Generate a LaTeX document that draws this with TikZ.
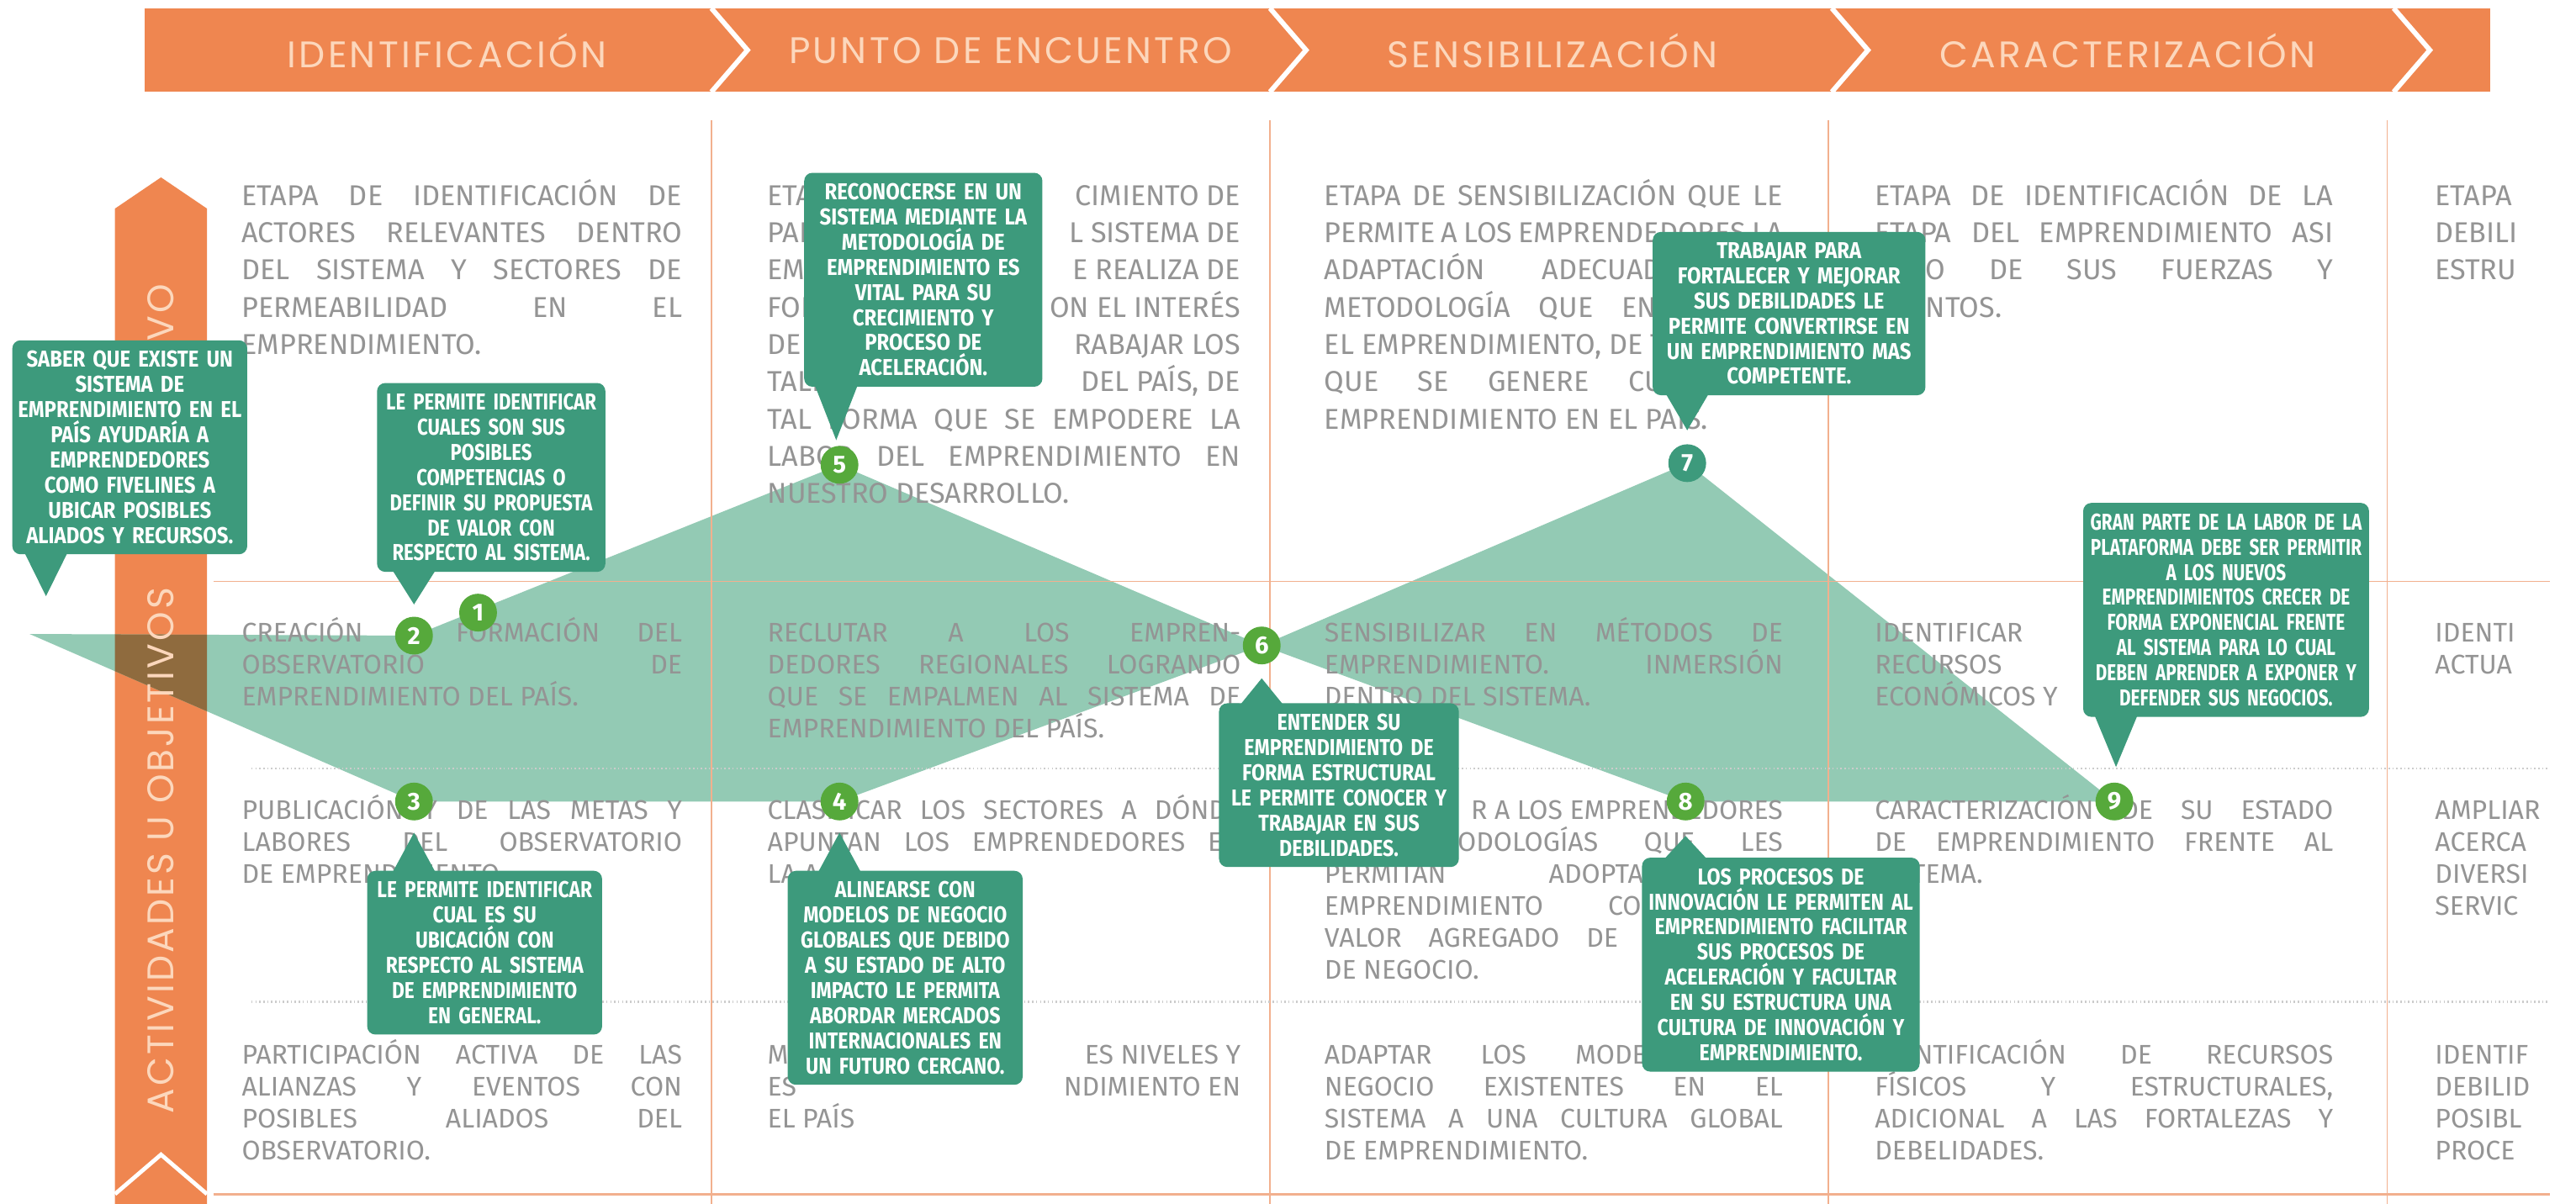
\documentclass[tikz,border=0pt]{standalone}
\usepackage{fontspec}
\usetikzlibrary{calc}
\newfontfamily\bodyf{Fira Sans}
\newfontfamily\callI[FakeStretch=0.76]{Fira Sans}
\newfontfamily\callB[FakeStretch=0.81]{Fira Sans}
\newfontfamily\callC[FakeStretch=0.83]{Fira Sans}
\newfontfamily\callD[FakeStretch=0.85]{Fira Sans}
\newfontfamily\callA[FakeStretch=0.875]{Fira Sans}
\newfontfamily\numf{Fira Sans}
\newfontfamily\headf[LetterSpace=7.5]{Poppins}
\newfontfamily\barf[LetterSpace=7]{Poppins}
\definecolor{orng}{HTML}{EF8650}
\definecolor{peach}{HTML}{FCD7BC}
\definecolor{cteal}{HTML}{3D9A7C}
\definecolor{cgreen}{HTML}{56A93B}
\definecolor{shapeg}{HTML}{93CAB4}
\definecolor{ovbrown}{HTML}{8F6B3E}
\definecolor{bodygray}{HTML}{949494}
\definecolor{gridor}{HTML}{F2B08E}
\definecolor{dotgray}{HTML}{CCCCCC}
\newlength\cw
\newcommand\jline[1]{\hbox to\cw{#1}}
\newcommand\lline[1]{\hbox to\cw{#1\hfil}}
\newcommand\sline[2]{\hbox to\cw{#1\hfil #2}}
\newcommand\pjline[2]{\hbox to\cw{\hbox to #1{#2}\hfil}}
\newcommand\rjline[2]{\hbox to\cw{\hfil\hbox to #1{#2}}}
\newcommand\rline[1]{\hbox to\cw{\hfil #1}}
\tikzset{
 headtext/.style={text=peach, font=\headf\fontsize{22.5}{22.5}\selectfont, inner sep=0pt},
 bartext/.style={text=peach, font=\barf\fontsize{22.5}{22.5}\selectfont, inner sep=0pt, rotate=90},
 callout/.style={fill=cteal, rounded corners=5pt, text=white, align=center, inner xsep=3pt, inner ysep=6.5pt, font=#1\bfseries\fontsize{14}{15.3}\selectfont, anchor=north},
 callout/.default=\callD,
 num/.style={circle, fill=cgreen, text=white, minimum size=23pt, inner sep=0pt, font=\numf\bfseries\fontsize{15}{15}\selectfont},
 gridline/.style={draw=gridor, line width=0.9pt},
 dotline/.style={draw=dotgray, line width=1.2pt, dash pattern=on 0.8pt off 1.6pt},
 bodytext/.style={anchor=base west, inner sep=0pt, text=bodygray, font=\bodyf\fontsize{17.5}{22.7}\selectfont},
 bodysmall/.style={anchor=base west, inner sep=0pt, text=bodygray, font=\bodyf\fontsize{16.4}{19.4}\selectfont},
 chev/.style={draw=white, line width=3pt},
}
\begin{document}
\begin{tikzpicture}[x=1pt,y=-1pt]
\useasboundingbox (0,0) rectangle (1568,733);
\fill[white] (0,0) rectangle (1568,733);
% header band
\fill[orng] (88,5) rectangle (1516,56);
\foreach \cx in {433,773,1115,1457}{\draw[chev] (\cx,5) -- (\cx+22,30.5) -- (\cx,56);}
\node[headtext] (h1) at (272,31) {IDENTIFICACIÓN};
\node[headtext] (h2) at (615,31) {PUNTO DE ENCUENTRO};
\node[headtext] (h3) at (945,31) {SENSIBILIZACIÓN};
\node[headtext] (h4) at (1295,31) {CARACTERIZACIÓN};
% left bar
\fill[orng] (70,733) -- (70,127) -- (98,108) -- (126,127) -- (126,733) -- cycle;
\draw[white, line width=2.5pt] (70,727) -- (98,703) -- (126,727);
% circle positions
\coordinate (p1) at (291,373);
\coordinate (p2) at (252,387);
\coordinate (p3) at (252,488);
\coordinate (p4) at (511,488);
\coordinate (p5) at (511,283);
\coordinate (p6) at (768,393);
\coordinate (p7) at (1027,282);
\coordinate (p8) at (1026,488);
\coordinate (p9) at (1287,488);
% green band
\fill[shapeg] (18,386) -- (p2) -- (p5) -- (p6) -- (p7) -- (p9) -- (p8) -- (p6) -- (p4) -- (p3) -- cycle;
\begin{scope}
\clip (70,733) -- (70,127) -- (98,108) -- (126,127) -- (126,733) -- cycle;
\fill[ovbrown] (18,386) -- (p2) -- (p5) -- (p6) -- (p4) -- (p3) -- cycle;
\end{scope}
\node[bartext] (bact) at (98,518) {ACTIVIDADES U OBJETIVOS};
\node[bartext, anchor=east] (bobj) at (98,173) {OBJETIVO};
% grid
\foreach \gx in {433,773,1113,1453}{\draw[gridline] (\gx,73) -- (\gx,733);}
\draw[gridline] (130,354) -- (1552,354);
\draw[gridline, line width=1.6pt] (130,727) -- (1552,727);
\draw[dotline] (153,468) -- (1552,468);
\draw[dotline] (153,610) -- (1552,610);
% ---------- body texts row 1
\node[bodytext] (c11) at (147,125) {\setlength\cw{268pt}\vtop{\baselineskip=22.7pt
\jline{ETAPA DE IDENTIFICACIÓN DE}
\jline{ACTORES RELEVANTES DENTRO}
\jline{DEL SISTEMA Y SECTORES DE}
\jline{PERMEABILIDAD EN EL}
\lline{EMPRENDIMIENTO.}}};
\node[bodytext] (c21) at (467,125) {\setlength\cw{288pt}\vtop{\baselineskip=22.7pt
\sline{ETAP}{CIMIENTO DE}
\sline{PARE}{L SISTEMA DE}
\sline{EMPR}{E REALIZA DE}
\sline{FORM}{ON EL INTERÉS}
\sline{DE R}{RABAJAR LOS}
\sline{TALE}{DEL PAÍS, DE}
\jline{TAL FORMA QUE SE EMPODERE LA}
\jline{LABOR DEL EMPRENDIMIENTO EN}
\lline{NUESTRO DESARROLLO.}}};
\node[bodytext] (c31) at (806,125) {\setlength\cw{279pt}\vtop{\baselineskip=22.7pt
\jline{ETAPA DE SENSIBILIZACIÓN QUE LE}
\jline{PERMITE A LOS EMPRENDEDORES LA}
\pjline{215pt}{ADAPTACIÓN ADECUADA}
\pjline{212pt}{METODOLOGÍA QUE ENC}
\lline{EL EMPRENDIMIENTO, DE T}
\pjline{215pt}{QUE SE GENERE CUL}
\lline{EMPRENDIMIENTO EN EL PAÍS.}}};
\node[bodytext] (c41) at (1141,125) {\setlength\cw{279pt}\vtop{\baselineskip=22.7pt
\jline{ETAPA DE IDENTIFICACIÓN DE LA}
\jline{ETAPA DEL EMPRENDIMIENTO ASI}
\rjline{248pt}{O DE SUS FUERZAS Y}
\hbox to\cw{\hskip 31pt NTOS.\hfil}}};
\begin{scope}
\clip (1470,60) rectangle (1547,733);
\node[bodytext] (c51) at (1482,125) {\setlength\cw{80pt}\vtop{\baselineskip=22.7pt
\lline{ETAPA}\lline{DEBILI}\lline{ESTRU}}};
\node[bodysmall] (c52) at (1482,391) {\setlength\cw{80pt}\vtop{\baselineskip=19.4pt
\lline{IDENTI}\lline{ACTUA}}};
\node[bodysmall] (c53) at (1482,499) {\setlength\cw{80pt}\vtop{\baselineskip=19.4pt
\lline{AMPLIAR}\lline{ACERCA}\lline{DIVERSI}\lline{SERVIC}}};
\node[bodysmall] (c54) at (1482,648) {\setlength\cw{80pt}\vtop{\baselineskip=19.4pt
\lline{IDENTIF}\lline{DEBILID}\lline{POSIBL}\lline{PROCE}}};
\end{scope}
% ---------- row 2
\node[bodysmall] (c12) at (147,391) {\setlength\cw{268pt}\vtop{\baselineskip=19.4pt
\hbox to\cw{CREACIÓN\hskip 0pt plus 2.5fil FORMACIÓN\hskip 0pt plus 1fil DEL}
\sline{OBSERVATORIO}{DE}
\lline{EMPRENDIMIENTO DEL PAÍS.}}};
\node[bodysmall] (c22) at (467,391) {\setlength\cw{288pt}\vtop{\baselineskip=19.4pt
\jline{RECLUTAR A LOS EMPREN-}
\jline{DEDORES REGIONALES LOGRANDO}
\jline{QUE SE EMPALMEN AL SISTEMA DE}
\lline{EMPRENDIMIENTO DEL PAÍS.}}};
\node[bodysmall] (c32) at (806,391) {\setlength\cw{279pt}\vtop{\baselineskip=19.4pt
\jline{SENSIBILIZAR EN MÉTODOS DE}
\jline{EMPRENDIMIENTO. INMERSIÓN}
\lline{DENTRO DEL SISTEMA.}}};
\node[bodysmall] (c42) at (1141,391) {\setlength\cw{279pt}\vtop{\baselineskip=19.4pt
\lline{IDENTIFICAR}\lline{RECURSOS}\lline{ECONÓMICOS Y}}};
% ---------- row 3
\node[bodysmall] (c13) at (147,499) {\setlength\cw{268pt}\vtop{\baselineskip=19.4pt
\jline{PUBLICACIÓN Y DE LAS METAS Y}
\jline{LABORES DEL OBSERVATORIO}
\lline{DE EMPRENDIMIENTO.}}};
\node[bodysmall] (c23) at (467,499) {\setlength\cw{288pt}\vtop{\baselineskip=19.4pt
\jline{CLASIFICAR LOS SECTORES A DÓNDE}
\jline{APUNTAN LOS EMPRENDEDORES EN}
\lline{LA A}}};
\node[bodysmall] (c33) at (806,499) {\setlength\cw{279pt}\vtop{\baselineskip=19.4pt
\rline{R A LOS EMPRENDEDORES}
\rjline{198pt}{ODOLOGÍAS QUE LES}
\pjline{204pt}{PERMITAN ADOPTAR}
\pjline{204pt}{EMPRENDIMIENTO CON}
\pjline{204pt}{VALOR AGREGADO DE S}
\lline{DE NEGOCIO.}}};
\node[bodysmall] (c43) at (1141,499) {\setlength\cw{279pt}\vtop{\baselineskip=19.4pt
\jline{CARACTERIZACIÓN DE SU ESTADO}
\jline{DE EMPRENDIMIENTO FRENTE AL}
\lline{SISTEMA.}}};
% ---------- row 4
\node[bodysmall] (c14) at (147,648) {\setlength\cw{268pt}\vtop{\baselineskip=19.4pt
\jline{PARTICIPACIÓN ACTIVA DE LAS}
\jline{ALIANZAS Y EVENTOS CON}
\jline{POSIBLES ALIADOS DEL}
\lline{OBSERVATORIO.}}};
\node[bodysmall] (c24) at (467,648) {\setlength\cw{288pt}\vtop{\baselineskip=19.4pt
\sline{ME}{ES NIVELES Y}
\sline{ES}{NDIMIENTO EN}
\lline{EL PAÍS}}};
\node[bodysmall] (c34) at (806,648) {\setlength\cw{279pt}\vtop{\baselineskip=19.4pt
\pjline{196pt}{ADAPTAR LOS MODE}
\jline{NEGOCIO EXISTENTES EN EL}
\jline{SISTEMA A UNA CULTURA GLOBAL}
\lline{DE EMPRENDIMIENTO.}}};
\node[bodysmall] (c44) at (1141,648) {\setlength\cw{279pt}\vtop{\baselineskip=19.4pt
\jline{IDENTIFICACIÓN DE RECURSOS}
\jline{FÍSICOS Y ESTRUCTURALES,}
\jline{ADICIONAL A LAS FORTALEZAS Y}
\lline{DEBELIDADES.}}};
% ---------- numbered circles
\node[num] (n1) at (p1) {1};
\node[num] (n2) at (p2) {2};
\node[num] (n3) at (p3) {3};
\node[num] (n4) at (p4) {4};
\node[num] (n5) at (p5) {5};
\node[num] (n6) at (p6) {6};
\node[num, fill=cteal] (n7) at (p7) {7};
\node[num] (n8) at (p8) {8};
\node[num] (n9) at (p9) {9};
% ---------- callouts
\node[callout=\callA, text width=137pt] (cA) at (79,207) {SABER QUE EXISTE UN\\SISTEMA DE\\EMPRENDIMIENTO EN EL\\PAÍS AYUDARÍA A\\EMPRENDEDORES\\COMO FIVELINES A\\UBICAR POSIBLES\\ALIADOS Y RECURSOS.};
\node[callout=\callB, text width=133pt] (cB) at (299,233) {LE PERMITE IDENTIFICAR\\CUALES SON SUS\\POSIBLES\\COMPETENCIAS O\\DEFINIR SU PROPUESTA\\DE VALOR CON\\RESPECTO AL SISTEMA.};
\node[callout=\callC, text width=137pt] (cC) at (295,530) {LE PERMITE IDENTIFICAR\\CUAL ES SU\\UBICACIÓN CON\\RESPECTO AL SISTEMA\\DE EMPRENDIMIENTO\\EN GENERAL.};
\node[callout=\callD, text width=137pt] (cD) at (551,530) {ALINEARSE CON\\MODELOS DE NEGOCIO\\GLOBALES QUE DEBIDO\\A SU ESTADO DE ALTO\\IMPACTO LE PERMITA\\ABORDAR MERCADOS\\INTERNACIONALES EN\\UN FUTURO CERCANO.};
\node[callout=\callA, text width=139pt] (cE) at (562,105) {RECONOCERSE EN UN\\SISTEMA MEDIANTE LA\\METODOLOGÍA DE\\EMPRENDIMIENTO ES\\VITAL PARA SU\\CRECIMIENTO Y\\PROCESO DE\\ACELERACIÓN.};
\node[callout=\callD, text width=140pt] (cF) at (815,428) {ENTENDER SU\\EMPRENDIMIENTO DE\\FORMA ESTRUCTURAL\\LE PERMITE CONOCER Y\\TRABAJAR EN SUS\\DEBILIDADES.};
\node[callout=\callA, text width=160pt] (cG) at (1089,141) {TRABAJAR PARA\\FORTALECER Y MEJORAR\\SUS DEBILIDADES LE\\PERMITE CONVERTIRSE EN\\UN EMPRENDIMIENTO MAS\\COMPETENTE.};
\node[callout=\callD, text width=163pt] (cH) at (1084,522) {LOS PROCESOS DE\\INNOVACIÓN LE PERMITEN AL\\EMPRENDIMIENTO FACILITAR\\SUS PROCESOS DE\\ACELERACIÓN Y FACULTAR\\EN SU ESTRUCTURA UNA\\CULTURA DE INNOVACIÓN Y\\EMPRENDIMIENTO.};
\node[callout=\callI, text width=168pt] (cI) at (1355,306) {GRAN PARTE DE LA LABOR DE LA\\PLATAFORMA DEBE SER PERMITIR\\A LOS NUEVOS\\EMPRENDIMIENTOS CRECER DE\\FORMA EXPONENCIAL FRENTE\\AL SISTEMA PARA LO CUAL\\DEBEN APRENDER A EXPONER Y\\DEFENDER SUS NEGOCIOS.};
% pointer tips
\coordinate (tA) at (28,363);
\coordinate (tB) at (252,368);
\coordinate (tE) at (509,268);
\coordinate (tG) at (1027,262);
\coordinate (tI) at (1288,467);
\coordinate (tC) at (252,507);
\coordinate (tD) at (511,507);
\coordinate (tF) at (768,413);
\coordinate (tH) at (1026,509);
\foreach \t/\c in {tA/cA,tB/cB,tE/cE,tG/cG,tI/cI}{
 \fill[cteal] (\t) -- ($(\t |- \c.south)+(-13,-1)$) -- ($(\t |- \c.south)+(13,-1)$) -- cycle;}
\foreach \t/\c in {tC/cC,tD/cD,tF/cF,tH/cH}{
 \fill[cteal] (\t) -- ($(\t |- \c.north)+(-13,1)$) -- ($(\t |- \c.north)+(13,1)$) -- cycle;}
\end{tikzpicture}
\end{document}
